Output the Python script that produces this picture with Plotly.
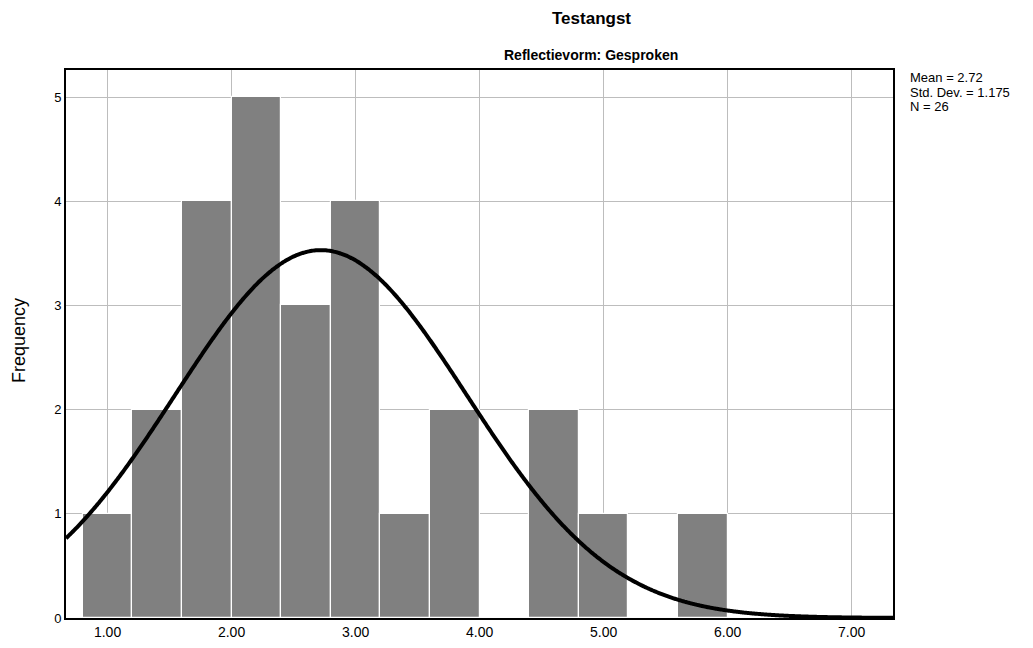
import numpy as np
import plotly.graph_objects as go

bin_centers = [1.0, 1.4, 1.8, 2.2, 2.6, 3.0, 3.4, 3.8, 4.2, 4.6, 5.0, 5.4, 5.8]
frequencies = [1, 2, 4, 5, 3, 4, 1, 2, 0, 2, 1, 0, 1]
bin_width = 0.4
mean_val = 2.72
std_dev = 1.175
n_obs = 26
x_ticks = [1, 2, 3, 4, 5, 6, 7]
y_ticks = [0, 1, 2, 3, 4, 5]

x_range = [0.665, 7.333]
y_range = [0, 5.26]

# plot area in pixels
L, R, T, B = 66, 893, 70, 618
W, H = 1033, 648
pw, ph = R - L, B - T

def px(x):
    return (x - L) / pw

def py(y):
    return (B - y) / ph

# fitted normal curve from the reported statistics
xc = np.linspace(x_range[0], x_range[1], 600)
yc = n_obs * bin_width / (std_dev * np.sqrt(2 * np.pi)) * np.exp(-0.5 * ((xc - mean_val) / std_dev) ** 2)

bx = [c for c, f in zip(bin_centers, frequencies) if f > 0]
by = [f for f in frequencies if f > 0]

fig = go.Figure()
fig.add_trace(go.Bar(x=bx, y=by, width=bin_width,
                     marker=dict(color="#808080", line=dict(color="white", width=1.2)),
                     hoverinfo="x+y"))
fig.add_trace(go.Scatter(x=xc, y=yc, mode="lines", line=dict(color="black", width=4, shape="spline"),
                         hoverinfo="skip"))

fig.update_layout(
    width=W, height=H,
    margin=dict(l=L, r=W - R, t=T, b=H - B, autoexpand=False),
    paper_bgcolor="white", plot_bgcolor="white",
    showlegend=False,
    font=dict(family="Liberation Sans, Arial, sans-serif", color="black", size=13),
    bargap=0,
)
fig.update_xaxes(range=x_range, tickvals=x_ticks, ticktext=[f"{v:.2f}" for v in x_ticks],
                 showgrid=True, gridcolor="#bdbdbd", gridwidth=1,
                 showline=True, linecolor="black", linewidth=2, mirror=True,
                 zeroline=False, ticks="", tickfont=dict(size=14), automargin=False)
fig.update_yaxes(range=y_range, tickvals=y_ticks, showgrid=True, gridcolor="#bdbdbd", gridwidth=1,
                 showline=True, linecolor="black", linewidth=2, mirror=True,
                 zeroline=False, ticks="", tickfont=dict(size=13), automargin=False)

fig.add_annotation(text="<b>Testangst</b>", x=px(591), y=py(18), xref="paper", yref="paper",
                   showarrow=False, font=dict(size=17), yanchor="middle")
fig.add_annotation(text="<b>Reflectievorm: Gesproken</b>", x=px(591), y=py(55), xref="paper", yref="paper",
                   showarrow=False, font=dict(size=14), yanchor="middle")
fig.add_annotation(text="Frequency", x=px(19), y=py(341), xref="paper", yref="paper",
                   showarrow=False, textangle=-90, font=dict(size=18), xanchor="center", yanchor="middle")

stat_lines = [f"Mean = {mean_val}", f"Std. Dev. = {std_dev}", f"N = {n_obs}"]
for i, s in enumerate(stat_lines):
    fig.add_annotation(text=s, x=px(909), y=py(78 + 14 * i), xref="paper", yref="paper",
                       showarrow=False, align="left", xanchor="left", yanchor="middle",
                       font=dict(size=13), borderpad=0)

fig.write_html("out.html", config={"displayModeBar": False},
               post_script="document.body.style.margin='0';document.body.style.padding='0';")
